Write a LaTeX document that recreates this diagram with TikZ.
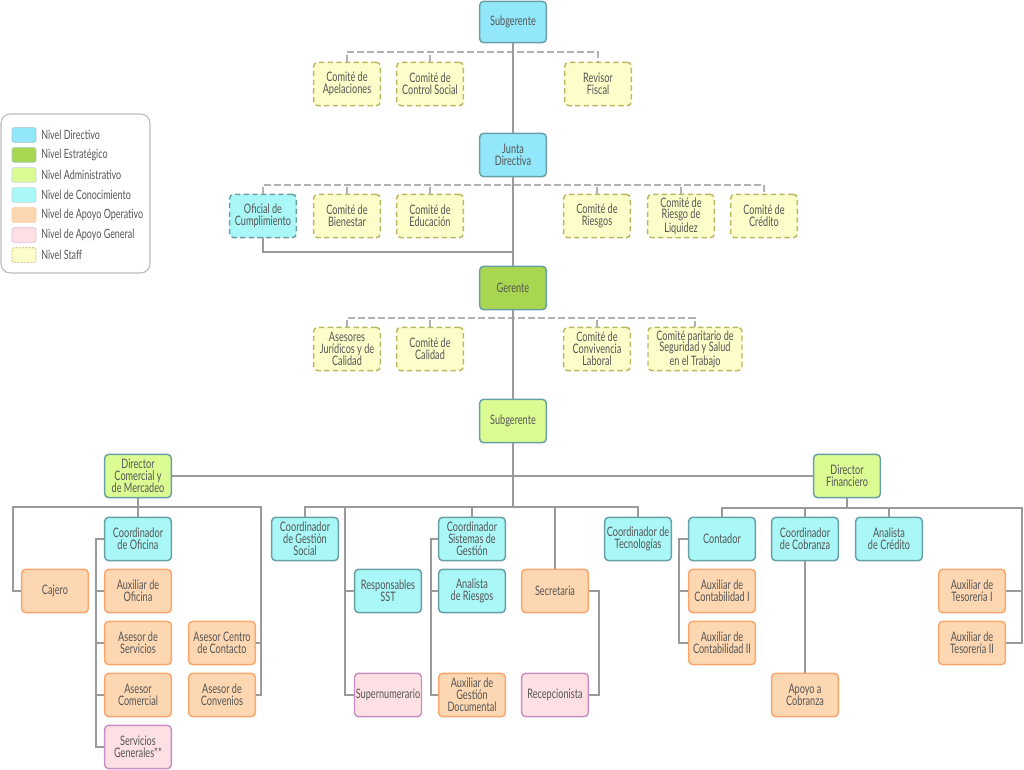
\documentclass[tikz,border=0pt]{standalone}
\usepackage{fontspec}
\setmainfont{Lato}[FakeStretch=0.70]
\definecolor{txt}{HTML}{555555}
\definecolor{dirF}{HTML}{92E8FA}
\definecolor{estF}{HTML}{A8D651}
\definecolor{admF}{HTML}{DBFB93}
\definecolor{conF}{HTML}{A9F7F6}
\definecolor{opF}{HTML}{FDD7B1}
\definecolor{opB}{HTML}{F9A66C}
\definecolor{genF}{HTML}{FDE0E4}
\definecolor{genB}{HTML}{C88DC3}
\definecolor{stF}{HTML}{FDFDC9}
\definecolor{stB}{HTML}{B9B865}
\definecolor{tB}{HTML}{6A9FA6}
\definecolor{ln}{HTML}{9A9A9A}
\definecolor{lgB}{HTML}{BBBBBB}
\tikzset{
  box/.style={draw, rounded corners=3pt, line width=1.1pt, align=center,
    minimum width=50pt, minimum height=32.5pt, inner sep=1pt,
    font=\fontsize{9.8}{8.9}\selectfont, text=txt},
  dirbox/.style={box, fill=dirF, draw=tB},
  estbox/.style={box, fill=estF, draw=tB},
  admbox/.style={box, fill=admF, draw=tB},
  conbox/.style={box, fill=conF, draw=tB},
  opbox/.style={box, fill=opF, draw=opB},
  genbox/.style={box, fill=genF, draw=genB},
  stbox/.style={box, fill=stF, draw=stB, dash pattern=on 4pt off 2.5pt},
  conn/.style={draw=ln, line width=1.1pt},
  dconn/.style={draw=lgB!70!ln, line width=1.1pt, dash pattern=on 5pt off 2.5pt},
  swatch/.style={draw, rounded corners=1.5pt, line width=0.5pt, minimum width=18pt, minimum height=11pt, inner sep=0pt},
  lgtext/.style={anchor=west, font=\fontsize{9.6}{10}\selectfont, text=txt, inner sep=0pt}
}
\begin{document}
\begin{tikzpicture}[x=0.75pt,y=-0.75pt]
\useasboundingbox (0,0) rectangle (1024,770);
% legend
\draw[lgB, line width=0.8pt, rounded corners=7pt] (1,114) rectangle (150,273);
\node[swatch, fill=dirF, draw=tB!60] (l1) at (24,135) {};
\node[swatch, fill=estF, draw=tB!60] (l2) at (24,155) {};
\node[swatch, fill=admF, draw=tB!40] (l3) at (24,175) {};
\node[swatch, fill=conF, draw=tB!40] (l4) at (24,195) {};
\node[swatch, fill=opF, draw=opB!60] (l5) at (24,215) {};
\node[swatch, fill=genF, draw=genB!60] (l6) at (24,235) {};
\node[swatch, fill=stF, draw=stB, dash pattern=on 1.5pt off 1pt] (l7) at (24,255) {};
\node[lgtext] (t1) at (41,135) {Nivel Directivo};
\node[lgtext] (t2) at (41,155) {Nivel Estratégico};
\node[lgtext] (t3) at (41,175) {Nivel Administrativo};
\node[lgtext] (t4) at (41,195) {Nivel de Conocimiento};
\node[lgtext] (t5) at (41,215) {Nivel de Apoyo Operativo};
\node[lgtext] (t6) at (41,235) {Nivel de Apoyo General};
\node[lgtext] (t7) at (41,255) {Nivel Staff};

% top levels
\node[dirbox, minimum height=31pt] (sub1) at (513,22) {Subgerente};
\node[stbox] (apel) at (347,84) {Comité de\\Apelaciones};
\node[stbox] (ctrl) at (430,84) {Comité de\\Control Social};
\node[stbox] (rev) at (598,84) {Revisor\\Fiscal};
\node[dirbox] (junta) at (513,155) {Junta\\Directiva};
\node[conbox, dash pattern=on 4pt off 2.5pt] (ofi) at (263,216) {Oficial de\\Cumplimiento};
\node[stbox] (bien) at (347,216) {Comité de\\Bienestar};
\node[stbox] (edu) at (430,216) {Comité de\\Educación};
\node[stbox] (ries) at (597,216) {Comité de\\Riesgos};
\node[stbox] (liq) at (681,216) {Comité de\\Riesgo de\\Liquidez};
\node[stbox] (cred) at (764,216) {Comité de\\Crédito};
\node[estbox] (ger) at (513,288) {Gerente};
\node[stbox] (jur) at (347,349) {Asesores\\Jurídicos y de\\Calidad};
\node[stbox] (cal) at (430,349) {Comité de\\Calidad};
\node[stbox] (conv) at (597,349) {Comité de\\Convivencia\\Laboral};
\node[stbox, minimum width=70.5pt] (parit) at (695,349) {Comité paritario de\\Seguridad y Salud\\en el Trabajo};
\node[admbox] (sub2) at (513,421) {Subgerente};
\node[admbox] (dcom) at (138,476) {Director\\Comercial y\\de Mercadeo};
\node[admbox] (dfin) at (847,476) {Director\\Financiero};

% commercial branch
\node[conbox] (coof) at (138,539) {Coordinador\\de Oficina};
\node[opbox] (cajero) at (55,591) {Cajero};
\node[opbox] (auxof) at (138,591) {Auxiliar de\\Oficina};
\node[opbox] (aserv) at (138,643) {Asesor de\\Servicios};
\node[opbox] (acom) at (138,695) {Asesor\\Comercial};
\node[genbox] (sgen) at (138,747) {Servicios\\Generales**};
\node[opbox] (acc) at (222,643) {Asesor Centro\\de Contacto};
\node[opbox] (aconv) at (222,695) {Asesor de\\Convenios};

% middle branch
\node[conbox] (gsoc) at (305,539) {Coordinador\\de Gestión\\Social};
\node[conbox] (sst) at (388,591) {Responsables\\SST};
\node[genbox] (sup) at (388,695) {Supernumerario};
\node[conbox] (csg) at (472,539) {Coordinador\\Sistemas de\\Gestión};
\node[conbox] (ar) at (472,591) {Analista\\de Riesgos};
\node[opbox] (agd) at (472,695) {Auxiliar de\\Gestión\\Documental};
\node[opbox] (sec) at (555,591) {Secretaria};
\node[genbox] (rec) at (555,695) {Recepcionista};
\node[conbox] (tec) at (638,539) {Coordinador de\\Tecnologías};

% financial branch
\node[conbox] (cont) at (722,539) {Contador};
\node[opbox] (ac1) at (722,591) {Auxiliar de\\Contabilidad I};
\node[opbox] (ac2) at (722,643) {Auxiliar de\\Contabilidad II};
\node[conbox] (cobr) at (805,539) {Coordinador\\de Cobranza};
\node[opbox] (apoyo) at (805,695) {Apoyo a\\Cobranza};
\node[conbox] (acred) at (889,539) {Analista\\de Crédito};
\node[opbox] (at1) at (972,591) {Auxiliar de\\Tesorería I};
\node[opbox] (at2) at (972,643) {Auxiliar de\\Tesorería II};

% helper coordinates
\coordinate (s1) at (513,52);
\coordinate (s2) at (513,185);
\coordinate (s3) at (513,318);
\coordinate (ob) at (513,252);
\coordinate (hb) at (513,507);
\coordinate (sstx) at (345,507);
\coordinate (dcr) at (261,507);
\coordinate (fr) at (1022,508);

% staff dashed connectors
\draw[dconn] (apel.north) |- (rev.north |- s1) -- (rev.north);
\draw[dconn] (ctrl.north) -- (ctrl.north |- s1);
\draw[dconn] (ofi.north) |- (cred.north |- s2) -- (cred.north);
\draw[dconn] (bien.north) -- (bien.north |- s2);
\draw[dconn] (edu.north) -- (edu.north |- s2);
\draw[dconn] (ries.north) -- (ries.north |- s2);
\draw[dconn] (liq.north) -- (liq.north |- s2);
\draw[dconn] (jur.north) |- (parit.north |- s3) -- (parit.north);
\draw[dconn] (cal.north) -- (cal.north |- s3);
\draw[dconn] (conv.north) -- (conv.north |- s3);

% main line
\draw[conn] (sub1.south) -- (junta.north);
\draw[conn] (junta.south) -- (ger.north);
\draw[conn] (ger.south) -- (sub2.north);
\draw[conn] (ofi.south) |- (ob);
\draw[conn] (sub2.south) -- (hb);
\draw[conn] (dcom.east) -- (dfin.west);

% middle
\draw[conn] (gsoc.north) |- (tec.north |- hb) -- (tec.north);
\draw[conn] (csg.north) -- (csg.north |- hb);
\draw[conn] (sec.north) -- (sec.north |- hb);
\draw[conn] (sstx) |- (sup.west);
\draw[conn] (sst.west) -- (sstx |- sst.west);
\draw[conn] (csg.west) -- ++(-7,0) |- (agd.west);
\draw[conn] (ar.west) -- ++(-7,0);
\draw[conn] (sec.east) -- ++(10,0) |- (rec.east);

% commercial
\draw[conn] (dcom.south) -- (coof.north);
\draw[conn] (cajero.west) -- ++(-8,0) |- (dcr) |- (aconv.east);
\draw[conn] (acc.east) -- (dcr |- acc.east);
\draw[conn] (coof.west) -- ++(-8,0) |- (sgen.west);
\draw[conn] (auxof.west) -- ++(-8,0);
\draw[conn] (aserv.west) -- ++(-8,0);
\draw[conn] (acom.west) -- ++(-8,0);

% financial
\draw[conn] (dfin.south) -- (dfin.south |- fr);
\draw[conn] (cont.north) |- (fr) |- (at2.east);
\draw[conn] (at1.east) -- (fr |- at1.east);
\draw[conn] (cobr.north) -- (cobr.north |- fr);
\draw[conn] (acred.north) -- (acred.north |- fr);
\draw[conn] (cobr.south) -- (apoyo.north);
\draw[conn] (cont.west) -- ++(-9,0) |- (ac2.west);
\draw[conn] (ac1.west) -- ++(-9,0);
\end{tikzpicture}
\end{document}
